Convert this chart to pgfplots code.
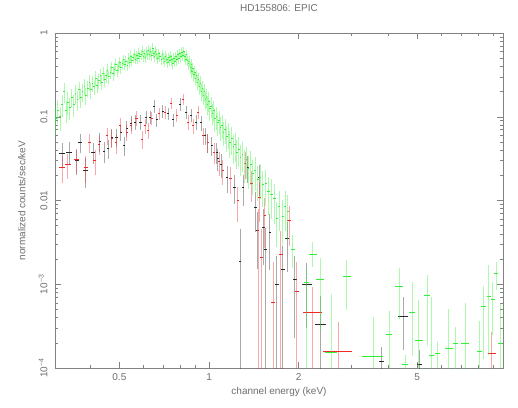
\documentclass[border=0pt]{standalone}
\usepackage{fontspec}
\setmainfont{Liberation Sans}
\usepackage{pgfplots}
\usepackage{pgfplotstable}
\pgfplotsset{compat=1.18}

\definecolor{txt}{RGB}{110,110,110}
\definecolor{frame}{RGB}{130,130,130}
\definecolor{pn}{RGB}{50,240,50}
\definecolor{mosa}{RGB}{40,40,40}
\definecolor{mosb}{RGB}{240,40,40}

% columns: energy, counts, relative half-width, relative error up / down
\pgfplotstableread{
x y ex ep em
0.321 0.037 0.020 0.32 0.32
0.339 0.038 0.020 0.30 0.30
0.360 0.030 0.015 0.32 0.32
0.369 0.050 0.012 0.26 0.26
0.386 0.023 0.020 0.38 0.38
0.408 0.038 0.015 0.28 0.28
0.430 0.051 0.010 0.26 0.26
0.444 0.039 0.010 0.28 0.28
0.458 0.042 0.010 0.26 0.26
0.472 0.057 0.010 0.24 0.24
0.490 0.057 0.010 0.24 0.24
0.506 0.066 0.010 0.22 0.22
0.518 0.046 0.010 0.26 0.26
0.530 0.073 0.010 0.21 0.21
0.547 0.084 0.010 0.20 0.20
0.565 0.087 0.010 0.20 0.20
0.590 0.087 0.010 0.20 0.20
0.615 0.099 0.008 0.18 0.18
0.634 0.099 0.008 0.18 0.18
0.654 0.134 0.008 0.17 0.17
0.668 0.092 0.008 0.18 0.18
0.700 0.117 0.008 0.17 0.17
0.728 0.110 0.008 0.17 0.17
0.757 0.092 0.008 0.18 0.18
0.800 0.142 0.008 0.17 0.17
0.837 0.114 0.008 0.17 0.17
0.870 0.105 0.008 0.18 0.18
0.905 0.087 0.008 0.20 0.20
0.940 0.085 0.008 0.21 0.21
0.970 0.060 0.008 0.23 0.23
0.990 0.050 0.008 0.26 0.26
1.020 0.046 0.008 0.26 0.26
1.060 0.038 0.008 0.28 0.28
1.070 0.032 0.008 0.30 0.30
1.100 0.027 0.008 0.32 0.32
1.150 0.019 0.008 0.36 0.36
1.220 0.0145 0.010 0.38 0.38
1.270 0.0019 0.010 1.40 0.99
1.300 0.0145 0.010 0.40 0.40
1.350 0.025 0.010 0.35 0.35
1.430 0.0084 0.010 0.50 0.50
1.450 0.0044 0.010 0.65 0.65
1.480 0.019 0.010 0.40 0.40
1.520 0.0048 0.010 0.65 0.65
1.550 0.0026 0.010 0.80 0.99
1.600 0.0042 0.010 0.65 0.65
1.690 0.00099 0.015 1.20 0.99
1.770 0.0015 0.015 0.90 0.99
1.830 0.0035 0.015 0.60 0.60
1.940 0.00114 0.015 0.90 0.80
2.130 0.00099 0.040 0.80 0.70
2.370 0.00033 0.040 1.20 0.99
3.800 0.00012 0.020 0.50 0.99
4.480 0.00041 0.035 0.70 0.60
5.100 0.00011 0.020 0.50 0.99
}\mosone

\pgfplotstableread{
x y ex ep em
0.321 0.025 0.020 0.36 0.36
0.336 0.027 0.020 0.34 0.34
0.358 0.031 0.020 0.32 0.32
0.386 0.025 0.015 0.36 0.36
0.398 0.050 0.012 0.26 0.26
0.414 0.030 0.012 0.32 0.32
0.427 0.047 0.010 0.26 0.26
0.455 0.060 0.010 0.24 0.24
0.472 0.056 0.010 0.24 0.24
0.487 0.049 0.010 0.26 0.26
0.503 0.080 0.010 0.21 0.21
0.530 0.066 0.010 0.22 0.22
0.547 0.078 0.010 0.21 0.21
0.570 0.097 0.010 0.20 0.20
0.596 0.054 0.010 0.24 0.24
0.610 0.078 0.008 0.20 0.20
0.625 0.069 0.008 0.21 0.21
0.643 0.096 0.008 0.18 0.18
0.680 0.110 0.008 0.17 0.17
0.712 0.114 0.008 0.17 0.17
0.745 0.146 0.008 0.16 0.16
0.780 0.105 0.008 0.17 0.17
0.818 0.163 0.008 0.16 0.16
0.850 0.087 0.008 0.20 0.20
0.884 0.078 0.008 0.21 0.21
0.918 0.114 0.008 0.18 0.18
0.955 0.060 0.008 0.23 0.23
0.990 0.050 0.008 0.26 0.26
1.040 0.038 0.008 0.28 0.28
1.080 0.029 0.008 0.32 0.32
1.110 0.023 0.008 0.34 0.34
1.180 0.0186 0.010 0.36 0.36
1.250 0.010 0.010 0.45 0.45
1.320 0.028 0.010 0.35 0.35
1.390 0.016 0.010 0.40 0.40
1.460 0.0044 0.010 0.80 0.99
1.480 0.011 0.010 0.50 0.50
1.500 0.0021 0.010 1.20 0.99
1.540 0.0067 0.010 0.60 0.60
1.640 0.00061 0.015 2.00 0.99
1.740 0.0023 0.015 0.90 0.99
1.860 0.0058 0.015 0.50 0.50
1.970 0.00083 0.015 1.20 0.99
2.230 0.00046 0.070 1.00 0.80
2.710 0.00016 0.110 1.20 0.99
8.900 0.00015 0.030 0.80 0.99
}\mostwo

\pgfplotstableread{
x y ex ep em
0.306 0.095 0.005 0.36 0.36
0.311 0.120 0.005 0.32 0.32
0.316 0.100 0.005 0.32 0.32
0.321 0.140 0.005 0.30 0.30
0.326 0.200 0.005 0.26 0.26
0.331 0.120 0.005 0.30 0.30
0.336 0.150 0.005 0.30 0.30
0.341 0.130 0.005 0.30 0.30
0.346 0.170 0.005 0.26 0.26
0.351 0.140 0.005 0.30 0.30
0.356 0.190 0.005 0.25 0.25
0.361 0.160 0.005 0.26 0.26
0.366 0.210 0.005 0.24 0.24
0.371 0.170 0.005 0.25 0.25
0.376 0.200 0.005 0.24 0.24
0.381 0.230 0.005 0.22 0.22
0.386 0.180 0.005 0.24 0.24
0.391 0.220 0.005 0.22 0.22
0.396 0.260 0.005 0.21 0.21
0.401 0.210 0.005 0.22 0.22
0.406 0.250 0.005 0.21 0.21
0.411 0.230 0.005 0.21 0.21
0.416 0.290 0.005 0.20 0.20
0.421 0.240 0.005 0.21 0.21
0.426 0.270 0.005 0.20 0.20
0.431 0.310 0.005 0.20 0.20
0.436 0.260 0.005 0.20 0.20
0.441 0.330 0.005 0.18 0.18
0.446 0.280 0.005 0.20 0.20
0.451 0.310 0.005 0.18 0.18
0.456 0.360 0.005 0.18 0.18
0.461 0.300 0.005 0.18 0.18
0.466 0.340 0.005 0.18 0.18
0.471 0.390 0.005 0.17 0.17
0.476 0.330 0.005 0.18 0.18
0.481 0.370 0.005 0.17 0.17
0.486 0.420 0.005 0.17 0.17
0.491 0.360 0.005 0.17 0.17
0.496 0.400 0.005 0.17 0.17
0.501 0.450 0.005 0.15 0.15
0.506 0.390 0.005 0.17 0.17
0.511 0.430 0.005 0.15 0.15
0.516 0.480 0.005 0.15 0.15
0.521 0.420 0.005 0.15 0.15
0.526 0.460 0.005 0.15 0.15
0.531 0.410 0.005 0.15 0.15
0.536 0.500 0.005 0.15 0.15
0.541 0.450 0.005 0.15 0.15
0.546 0.530 0.005 0.14 0.14
0.551 0.470 0.005 0.15 0.15
0.556 0.510 0.005 0.14 0.14
0.561 0.560 0.005 0.14 0.14
0.566 0.490 0.005 0.14 0.14
0.571 0.540 0.005 0.14 0.14
0.576 0.500 0.005 0.14 0.14
0.581 0.580 0.005 0.14 0.14
0.586 0.520 0.005 0.14 0.14
0.591 0.550 0.005 0.14 0.14
0.596 0.610 0.004 0.14 0.14
0.601 0.530 0.004 0.14 0.14
0.606 0.570 0.004 0.14 0.14
0.611 0.510 0.004 0.14 0.14
0.616 0.600 0.004 0.14 0.14
0.621 0.550 0.004 0.14 0.14
0.626 0.630 0.004 0.14 0.14
0.631 0.560 0.004 0.14 0.14
0.636 0.600 0.004 0.14 0.14
0.641 0.540 0.004 0.14 0.14
0.646 0.660 0.004 0.14 0.14
0.651 0.580 0.004 0.14 0.14
0.656 0.530 0.004 0.14 0.14
0.661 0.610 0.004 0.14 0.14
0.666 0.560 0.004 0.14 0.14
0.672 0.500 0.004 0.14 0.14
0.678 0.570 0.004 0.14 0.14
0.684 0.520 0.004 0.14 0.14
0.690 0.480 0.004 0.14 0.14
0.696 0.550 0.004 0.14 0.14
0.702 0.500 0.004 0.14 0.14
0.708 0.460 0.004 0.15 0.15
0.714 0.530 0.004 0.14 0.14
0.720 0.490 0.004 0.14 0.14
0.726 0.450 0.004 0.15 0.15
0.732 0.510 0.004 0.14 0.14
0.738 0.470 0.004 0.15 0.15
0.744 0.530 0.004 0.14 0.14
0.750 0.480 0.004 0.15 0.15
0.756 0.440 0.004 0.15 0.15
0.762 0.500 0.004 0.14 0.14
0.768 0.460 0.004 0.15 0.15
0.774 0.520 0.004 0.14 0.14
0.780 0.480 0.004 0.15 0.15
0.786 0.550 0.004 0.14 0.14
0.792 0.500 0.004 0.15 0.15
0.798 0.570 0.004 0.14 0.14
0.804 0.520 0.004 0.15 0.15
0.810 0.590 0.004 0.14 0.14
0.816 0.540 0.004 0.15 0.15
0.822 0.600 0.004 0.14 0.14
0.828 0.530 0.004 0.15 0.15
0.834 0.490 0.004 0.15 0.15
0.840 0.550 0.004 0.15 0.15
0.846 0.470 0.004 0.15 0.15
0.852 0.430 0.004 0.15 0.15
0.858 0.460 0.004 0.15 0.15
0.864 0.390 0.004 0.16 0.16
0.870 0.420 0.004 0.16 0.16
0.876 0.350 0.004 0.16 0.16
0.882 0.380 0.004 0.16 0.16
0.888 0.320 0.004 0.18 0.18
0.894 0.340 0.004 0.18 0.18
0.900 0.290 0.004 0.18 0.18
0.907 0.310 0.004 0.18 0.18
0.914 0.260 0.004 0.20 0.20
0.921 0.280 0.004 0.20 0.20
0.928 0.230 0.004 0.21 0.21
0.935 0.250 0.004 0.21 0.21
0.942 0.200 0.004 0.22 0.22
0.949 0.220 0.004 0.22 0.22
0.956 0.180 0.004 0.24 0.24
0.964 0.200 0.004 0.24 0.24
0.972 0.160 0.004 0.25 0.25
0.980 0.170 0.004 0.25 0.25
0.988 0.140 0.004 0.26 0.26
0.996 0.155 0.004 0.26 0.26
1.005 0.125 0.005 0.28 0.28
1.015 0.135 0.005 0.28 0.28
1.025 0.110 0.005 0.28 0.28
1.035 0.120 0.005 0.28 0.28
1.046 0.095 0.005 0.30 0.30
1.057 0.100 0.005 0.30 0.30
1.068 0.085 0.005 0.30 0.30
1.080 0.090 0.005 0.30 0.30
1.092 0.075 0.005 0.32 0.32
1.105 0.080 0.005 0.32 0.32
1.118 0.066 0.005 0.33 0.33
1.132 0.070 0.005 0.33 0.33
1.146 0.058 0.005 0.34 0.34
1.160 0.062 0.005 0.34 0.34
1.175 0.050 0.005 0.36 0.36
1.190 0.055 0.005 0.36 0.36
1.206 0.044 0.006 0.38 0.38
1.222 0.047 0.006 0.38 0.38
1.239 0.038 0.006 0.38 0.38
1.256 0.041 0.006 0.38 0.38
1.274 0.033 0.006 0.40 0.40
1.293 0.036 0.006 0.40 0.40
1.313 0.028 0.006 0.42 0.42
1.334 0.031 0.006 0.42 0.42
1.356 0.024 0.007 0.43 0.43
1.379 0.027 0.007 0.43 0.43
1.403 0.021 0.007 0.44 0.44
1.428 0.023 0.007 0.44 0.44
1.455 0.018 0.008 0.45 0.45
1.484 0.019 0.008 0.45 0.45
1.515 0.0155 0.008 0.46 0.46
1.548 0.016 0.008 0.46 0.46
1.583 0.013 0.009 0.48 0.48
1.620 0.012 0.009 0.50 0.50
1.660 0.0105 0.010 0.50 0.50
1.690 0.0062 0.010 0.55 0.55
1.720 0.0086 0.010 0.50 0.50
1.770 0.0065 0.010 0.55 0.55
1.800 0.0086 0.010 0.50 0.50
1.840 0.0075 0.010 0.55 0.55
1.910 0.0026 0.015 0.50 0.40
2.120 0.00106 0.020 0.45 0.99
2.230 0.0023 0.030 0.40 0.30
2.360 0.00115 0.030 0.80 0.75
2.570 0.000155 0.045 4.00 0.99
2.900 0.00123 0.030 0.60 0.60
3.550 0.000137 0.080 2.00 0.99
4.020 0.00025 0.020 0.90 0.99
4.340 0.00095 0.030 0.65 0.60
4.550 0.00011 0.020 0.30 0.99
4.800 0.00046 0.020 1.30 0.70
5.060 0.000215 0.030 2.00 0.99
5.390 0.00074 0.020 0.75 0.75
5.600 0.00014 0.020 4.00 0.99
5.850 0.00015 0.020 0.35 0.99
6.380 0.00017 0.030 2.00 0.99
6.700 0.00020 0.020 0.55 0.99
7.230 0.00020 0.030 2.00 0.99
8.100 0.00016 0.020 1.30 0.99
8.370 0.00055 0.020 0.75 0.77
8.700 0.00072 0.015 1.35 0.80
8.970 0.00067 0.015 0.60 0.63
9.200 0.00137 0.015 0.33 0.37
9.500 0.00020 0.015 2.00 0.99
}\pndata

\pgfplotsset{
  ybar only/.style={draw=none, mark=none, forget plot,
    error bars/.cd, y dir=both, y explicit relative, error mark=none,
    error bar style={draw=#1, opacity=0.4, line width=0.9pt}},
  xbar only/.style={draw=none, mark=none, forget plot,
    error bars/.cd, x dir=both, x explicit relative, error mark=none,
    error bar style={draw=#1, line width=0.6pt}},
}

\begin{document}
\begin{tikzpicture}
\path[use as bounding box] (-55pt,-39pt) rectangle (463pt,368pt);
\begin{axis}[
  at={(0,0)}, anchor=south west,
  scale only axis, width=448pt, height=335pt,
  xmode=log, ymode=log,
  xmin=0.304, xmax=9.7, ymin=1e-4, ymax=1,
  axis line style={frame, line width=0.6pt},
  tick style={frame, line width=0.5pt},
  tick align=inside,
  major tick length=6pt, minor tick length=3pt,
  xtick={0.5,1,2,5}, xticklabels={0.5,1,2,5},
  minor xtick={0.3,0.4,0.6,0.7,0.8,0.9,3,4,6,7,8,9},
  ytick={1e-4,1e-3,0.01,0.1,1},
  yticklabels={10\textsuperscript{−4},10\textsuperscript{−3},0.01,0.1,1},
  minor ytick={2e-4,3e-4,4e-4,5e-4,6e-4,7e-4,8e-4,9e-4,
    2e-3,3e-3,4e-3,5e-3,6e-3,7e-3,8e-3,9e-3,
    0.02,0.03,0.04,0.05,0.06,0.07,0.08,0.09,
    0.2,0.3,0.4,0.5,0.6,0.7,0.8,0.9},
  ticklabel style={text=txt, font=\fontsize{10}{12}\selectfont},
  xticklabel shift=2pt,
  yticklabel style={rotate=90, anchor=south},
  yticklabel shift=4pt,
  title={HD155806: EPIC},
  title style={at={(axis description cs:0.5,1.057)}, anchor=center, text=txt, font=\fontsize{10}{12}\selectfont},
  xlabel={channel energy (keV)},
  xlabel style={at={(axis description cs:0.5,-0.072)}, anchor=center, text=txt, font=\fontsize{10}{12}\selectfont},
  ylabel={normalized counts/sec/keV},
  ylabel style={at={(axis description cs:-0.074,0.5)}, anchor=center, text=txt, font=\fontsize{10}{12}\selectfont},
]
\addplot[ybar only=mosa] table[x=x, y=y, y error plus=ep, y error minus=em] {\mosone};
\addplot[xbar only=mosa] table[x=x, y=y, x error=ex] {\mosone};
\addplot[ybar only=mosb] table[x=x, y=y, y error plus=ep, y error minus=em] {\mostwo};
\addplot[xbar only=mosb] table[x=x, y=y, x error=ex] {\mostwo};
\addplot[ybar only=pn] table[x=x, y=y, y error plus=ep, y error minus=em] {\pndata};
\addplot[xbar only=pn] table[x=x, y=y, x error=ex] {\pndata};
\end{axis}
\end{tikzpicture}
\end{document}
